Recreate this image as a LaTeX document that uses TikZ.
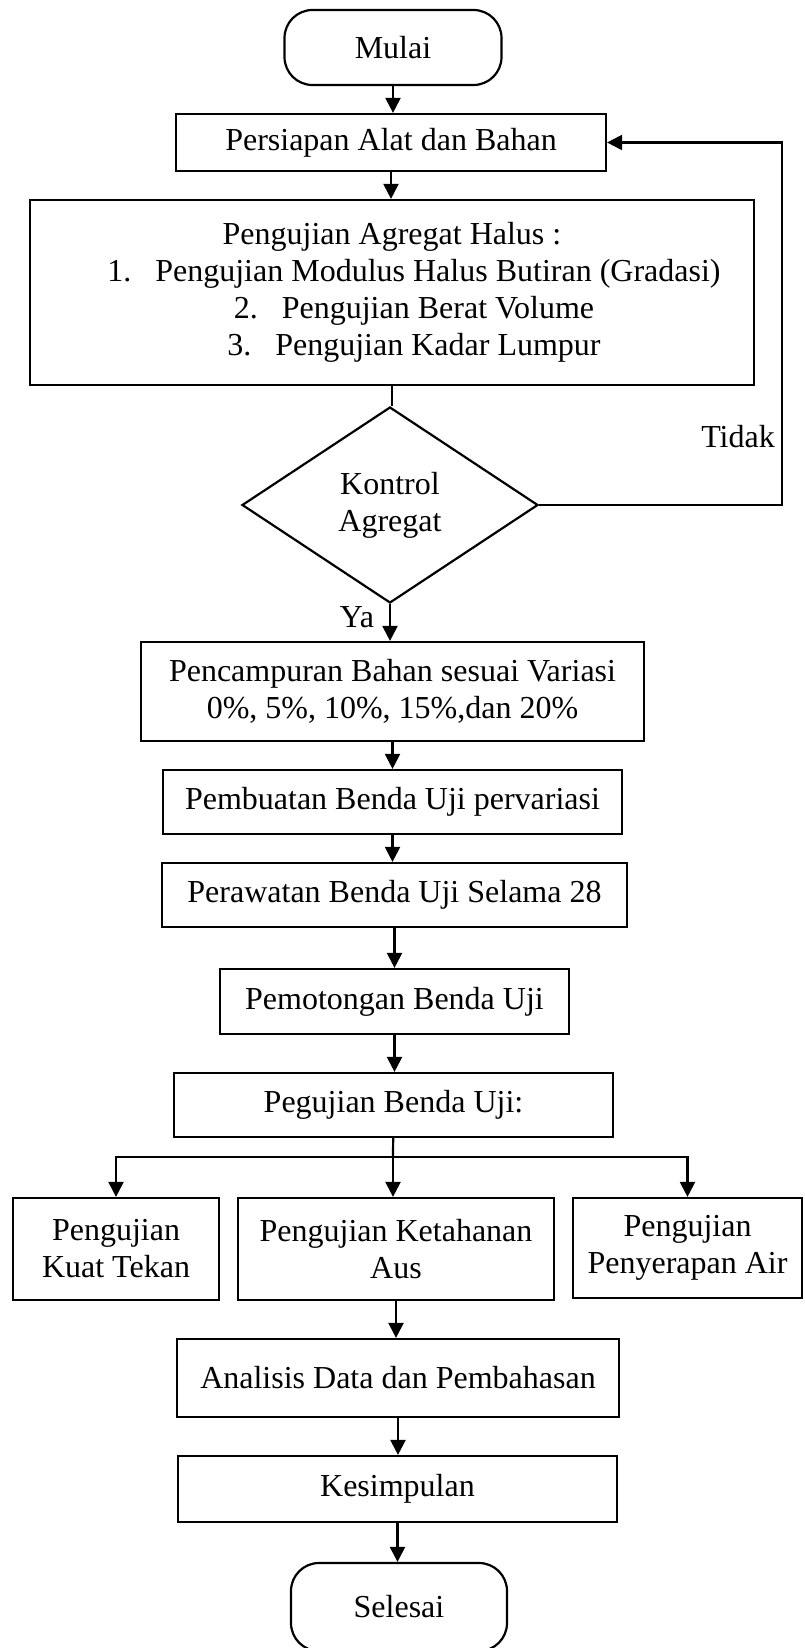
\documentclass[tikz,border=0pt]{standalone}
\usepackage{fontspec}
\setmainfont{Liberation Serif}
\usetikzlibrary{shapes.geometric,arrows.meta}

\tikzset{
  proses/.style={draw,line width=1.1pt,align=center,inner sep=0pt},
  terminal/.style={draw,line width=1.1pt,rounded corners=14pt,inner sep=0pt},
  keputusan/.style={draw,diamond,line width=1.1pt,align=center,inner sep=0pt},
  panah/.style={line width=1.1pt,-{Triangle[length=7.5pt,width=7.5pt]}},
  garis/.style={line width=1.1pt},
}
\newcommand{\nomor}[1]{\makebox[24pt][l]{#1}}

\begin{document}
\begin{tikzpicture}[x=0.5pt,y=-0.5pt,font=\fontsize{16}{18.5}\selectfont]
        \useasboundingbox (0,0) rectangle (804,1648);
        % alur utama
        \node[terminal,minimum width=108.5pt,minimum height=37.5pt] (mulai) at (393,47.5) {Mulai};
        \node[proses,minimum width=215pt,minimum height=28.5pt] (persiapan) at (391,142.5) {Persiapan Alat dan Bahan};
        \node[proses,minimum width=362pt,minimum height=92.5pt] (agregat) at (392,292.5)
          {Pengujian Agregat Halus :\\
           \hspace*{22pt}\nomor{1.}Pengujian Modulus Halus Butiran (Gradasi)\\
           \hspace*{22pt}\nomor{2.}Pengujian Berat Volume\\
           \hspace*{22pt}\nomor{3.}Pengujian Kadar Lumpur};
        \node[keputusan,minimum width=148pt,minimum height=98pt] (kontrol) at (390,505) {Kontrol\\Agregat};
        \node[proses,minimum width=251.5pt,minimum height=49.5pt] (pencampuran) at (392.5,691.5)
          {Pencampuran Bahan sesuai Variasi\\0\%, 5\%, 10\%, 15\%,dan 20\%};
        \node[proses,minimum width=229.5pt,minimum height=32pt] (pembuatan) at (392.5,802) {Pembuatan Benda Uji pervariasi};
        \node[proses,minimum width=232.5pt,minimum height=32pt] (perawatan) at (394.5,895) {Perawatan Benda Uji Selama 28};
        \node[proses,minimum width=174.5pt,minimum height=32.5pt] (pemotongan) at (394.5,1001.5) {Pemotongan Benda Uji};
        \node[proses,minimum width=219.5pt,minimum height=32pt] (pegujian) at (393.5,1105) {Pegujian Benda Uji:};
        % tiga pengujian
        \node[proses,minimum width=103pt,minimum height=51pt] (kuat) at (116,1249) {Pengujian\\Kuat Tekan};
        \node[proses,minimum width=158pt,minimum height=51pt] (aus) at (396,1249) {Pengujian Ketahanan\\Aus};
        \node[proses,minimum width=114.5pt,minimum height=50pt] (air) at (687.5,1248) {Pengujian\\Penyerapan Air};
        \node[proses,minimum width=221pt,minimum height=39pt] (analisis) at (398,1378) {Analisis Data dan Pembahasan};
        \node[proses,minimum width=219.5pt,minimum height=33pt] (kesimpulan) at (397.5,1489) {Kesimpulan};
        \node[terminal,minimum width=108pt,minimum height=44pt] (selesai) at (399,1607) {Selesai};

        % panah lurus ke bawah
        \foreach \a/\b in {mulai/persiapan,persiapan/agregat,kontrol/pencampuran,pencampuran/pembuatan,
                           pembuatan/perawatan,perawatan/pemotongan,pemotongan/pegujian,
                           aus/analisis,analisis/kesimpulan,kesimpulan/selesai} {
            \draw[panah] (\a) -- (\a |- \b.north);
          }
        \draw[garis] (agregat) -- (agregat |- kontrol.north);

        % kembali bila tidak
        \coordinate (balik) at (782,505);
        \draw[panah] (kontrol.east) -- (balik) |- (persiapan.east);
        \node (tidak) at (738,437) {Tidak};
        \node (ya) at (357,617) {Ya};

        % cabang pengujian
        \coordinate (cabang) at (393,1157);
        \draw[garis] (pegujian) -- (cabang);
        \draw[panah] (cabang) -| (kuat.north);
        \draw[panah] (cabang) -| (air.north);
        \draw[panah] (cabang) -- (cabang |- aus.north);
      \end{tikzpicture}
\end{document}
